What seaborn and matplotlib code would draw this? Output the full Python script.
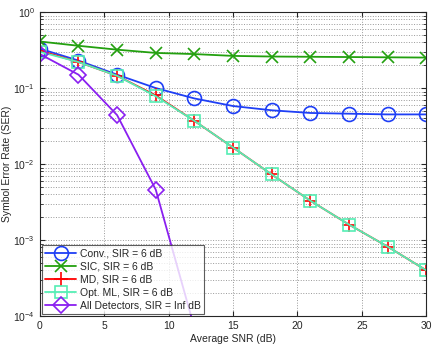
import numpy as np
import pandas as pd
import matplotlib
matplotlib.use('Agg')
import matplotlib.pyplot as plt
import seaborn as sns

snr = [0, 3, 6, 9, 12, 15, 18, 21, 24, 27, 30]
conv = [0.33, 0.23, 0.15, 0.10, 0.073, 0.058, 0.051, 0.047, 0.046, 0.045, 0.045]
sic = [0.41, 0.36, 0.32, 0.29, 0.28, 0.265, 0.26, 0.258, 0.256, 0.254, 0.252]
md = [0.31, 0.22, 0.145, 0.08, 0.037, 0.0165, 0.0073, 0.0033, 0.0016, 0.00082, 0.0004]
opt_ml = [0.30, 0.22, 0.145, 0.078, 0.037, 0.0165, 0.0073, 0.0033, 0.0016, 0.00082, 0.0004]
snr_inf = [0, 3, 6, 9, 12]
all_det = [0.28, 0.15, 0.044, 0.0046, 0.00007]

labels = ['Conv., SIR = 6 dB', 'SIC, SIR = 6 dB', 'MD, SIR = 6 dB',
          'Opt. ML, SIR = 6 dB', 'All Detectors, SIR = Inf dB']

sns.set_style('ticks')
plt.rcParams['font.family'] = ['Liberation Sans', 'DejaVu Sans']
plt.rcParams['mathtext.fontset'] = 'custom'
plt.rcParams['mathtext.rm'] = 'Liberation Sans'
plt.rcParams['font.size'] = 7.5

fig = plt.figure(figsize=(4.43, 3.45), dpi=100)
ax = fig.add_axes([0.090, 0.084, 0.872, 0.881])

series = [
    (snr, conv, '#1f3ff5', 'o', 10, 'none'),
    (snr, sic, '#23a00f', 'x', 8, None),
    (snr, md, '#ff0000', '+', 10, None),
    (snr, opt_ml, '#55eeb4', 's', 8, 'none'),
    (snr_inf, all_det, '#8a1ff0', 'D', 8, 'none'),
]

for (x, y, c, m, ms, fc), lab in zip(series, labels):
    df = pd.DataFrame({'snr': x, 'ser': y})
    kw = dict(marker=m, markersize=ms, markeredgewidth=1.2)
    if fc is not None:
        kw['markerfacecolor'] = fc
    sns.lineplot(data=df, x='snr', y='ser', ax=ax, color=c, linewidth=1.3,
                 markeredgecolor=c, label=lab, **kw)

ax.set_yscale('log')
ax.set_xlim(0, 30)
ax.set_ylim(1e-4, 1)
ax.set_xticks([0, 5, 10, 15, 20, 25, 30])
ax.grid(True, which='major', linestyle=':', color='#999999', linewidth=0.7)
ax.grid(True, which='minor', axis='y', linestyle=':', color='#999999', linewidth=0.7)
ax.tick_params(which='both', direction='in', top=True, right=True, labelsize=7.5)
ax.tick_params(which='major', length=3.5)
ax.tick_params(which='minor', length=2)
for s in ax.spines.values():
    s.set_linewidth(0.8)
ax.set_xlabel('Average SNR (dB)', fontsize=7.5, labelpad=2)
ax.set_ylabel('Symbol Error Rate (SER)', fontsize=7.5, labelpad=1)

leg = ax.legend(loc='lower left', fontsize=7.5, frameon=True, fancybox=False,
                edgecolor='#333333', handlelength=3, borderpad=0.3,
                labelspacing=0.3, handletextpad=0.4, borderaxespad=0.2)
leg.get_frame().set_linewidth(0.8)

fig.savefig('out.png', dpi=100)
